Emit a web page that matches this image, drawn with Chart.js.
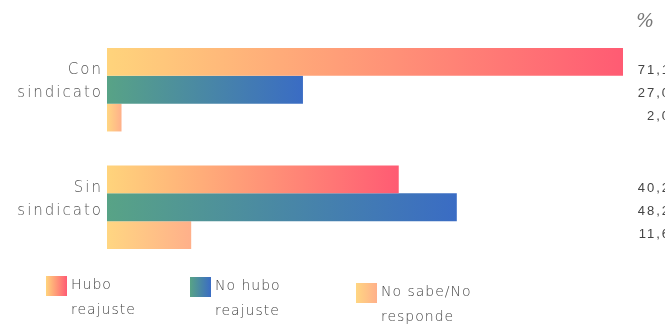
<!DOCTYPE html>
<html lang="es">
<head>
<meta charset="UTF-8">
<title>Reajuste salarial</title>
<script src="https://cdn.jsdelivr.net/npm/chart.js"></script>
<style>
  html, body { margin: 0; padding: 0; background: #fff; }
  #wrap { width: 665px; height: 326px; position: relative; }
</style>
</head>
<body>
<div id="wrap"><canvas id="grafico"></canvas></div>
<script>
// categorías y series (porcentajes)
const categorias = [['Con', 'sindicato'], ['Sin', 'sindicato']];
const series = ['Hubo reajuste', 'No hubo reajuste', 'No sabe/No responde'];
const huboReajuste = [71.1, 40.2];
const noHuboReajuste = [27.0, 48.2];
const noSabe = [2.0, 11.6];
const etiquetas = [['71,1', '27,0', '2,0'], ['40,2', '48,2', '11,6']];
const leyendaLineas = [['Hubo', 'reajuste'], ['No hubo', 'reajuste'], ['No sabe/No', 'responde']];

// colores de inicio y fin de cada degradado
const degradados = [
  ['#ffd47c', '#ff5b73'],
  ['#58a386', '#3a6cc4'],
  ['#ffd682', '#ffb08a']
];

function rellenoBarra(ctx, serie) {
  const chart = ctx.chart;
  const area = chart.chartArea;
  const [c0, c1] = degradados[serie];
  if (!area || ctx.type !== 'data') return c1;
  const x = chart.scales.x;
  const x0 = x.getPixelForValue(0);
  const x1 = x.getPixelForValue(ctx.parsed.x);
  const g = chart.ctx.createLinearGradient(x0, 0, Math.max(x1, x0 + 1), 0);
  g.addColorStop(0, c0);
  g.addColorStop(1, c1);
  return g;
}

// texto de los ejes con más espacio entre letras
const espaciado = {
  id: 'espaciado',
  beforeDraw(chart) { chart.ctx.letterSpacing = '2px'; }
};

// valores, símbolo % y leyenda dibujados a mano
const extras = {
  id: 'extras',
  afterDraw(chart) {
    const c = chart.ctx;
    const y = chart.scales.y;
    c.save();
    c.letterSpacing = '0px';
    c.fillStyle = '#777';
    c.font = 'italic 19px "DejaVu Serif"';
    c.textAlign = 'left';
    c.textBaseline = 'middle';
    c.fillText('%', 636, 22);

    c.fillStyle = '#444';
    c.font = '13px "Liberation Sans"';
    c.letterSpacing = '2px';
    c.textAlign = 'right';
    etiquetas.forEach((grupo, i) => {
      const yc = y.getPixelForValue(i) + 4;
      grupo.forEach((t, j) => {
        c.fillText(t, 671, yc + (j - 1) * 23);
      });
    });

    // leyenda
    const xs = [46, 190, 356];
    const ys = [276, 277, 283];
    c.textAlign = 'left';
    c.font = '300 14px "DejaVu Sans"';
    c.letterSpacing = '1px';
    leyendaLineas.forEach((lineas, i) => {
      const [c0, c1] = degradados[i];
      const g = c.createLinearGradient(xs[i], 0, xs[i] + 21, 0);
      g.addColorStop(0, c0);
      g.addColorStop(1, c1);
      c.fillStyle = g;
      c.fillRect(xs[i], ys[i], 21, 20);
      c.fillStyle = '#444';
      lineas.forEach((t, k) => {
        c.fillText(t, xs[i] + 25, ys[i] + 9 + k * 25);
      });
    });
    c.restore();
  }
};

new Chart(document.getElementById('grafico'), {
  type: 'bar',
  data: {
    labels: categorias,
    datasets: [
      { label: series[0], data: huboReajuste, backgroundColor: ctx => rellenoBarra(ctx, 0) },
      { label: series[1], data: noHuboReajuste, backgroundColor: ctx => rellenoBarra(ctx, 1) },
      { label: series[2], data: noSabe, backgroundColor: ctx => rellenoBarra(ctx, 2) }
    ]
  },
  options: {
    indexAxis: 'y',
    responsive: true,
    maintainAspectRatio: false,
    animation: false,
    datasets: { bar: { categoryPercentage: 0.71, barPercentage: 1.0, borderWidth: 0 } },
    layout: { padding: { top: 31, bottom: 60, left: 0, right: 42 } },
    plugins: { legend: { display: false }, tooltip: { enabled: false } },
    scales: {
      x: { display: false, min: 0, max: 71.1 },
      y: {
        grid: { display: false, drawTicks: false },
        border: { display: false },
        afterFit(scale) { scale.width = 107; },
        ticks: {
          color: '#555',
          padding: 4,
          labelOffset: -8,
          font: { family: 'DejaVu Sans', weight: 300, size: 15, lineHeight: 1.55 }
        }
      }
    }
  },
  plugins: [espaciado, extras]
});
</script>
</body>
</html>
